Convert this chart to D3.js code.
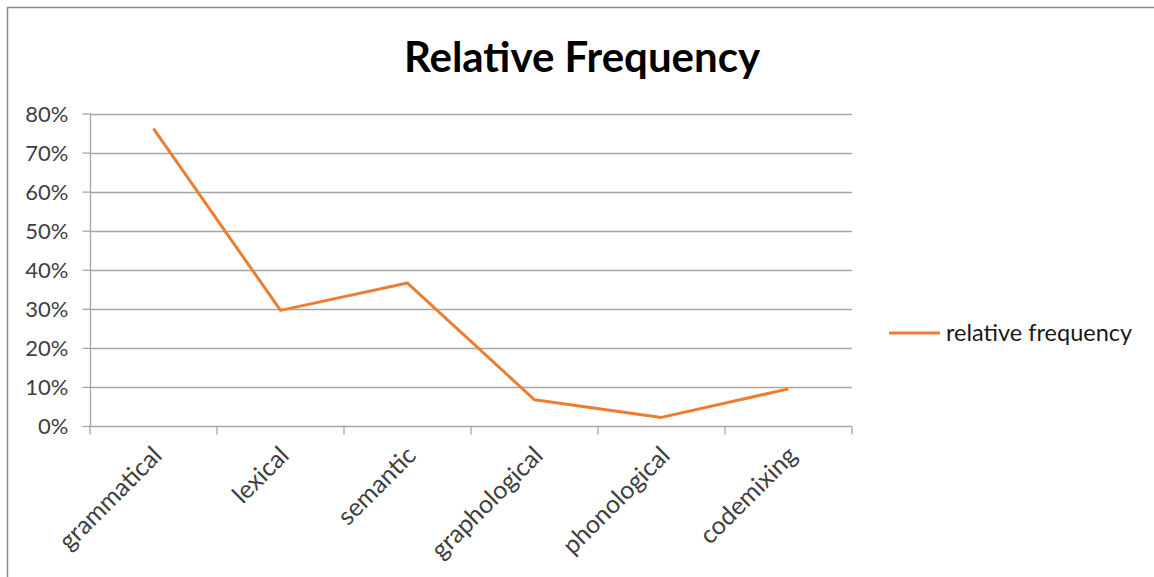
<!DOCTYPE html>
<html><head><meta charset="utf-8">
<script src="https://cdn.jsdelivr.net/npm/d3@7"></script>
<style>body{margin:0;background:#fff;} text{font-family:Lato,"Open Sans",sans-serif;}</style>
</head><body><svg id="c" width="1154" height="577"></svg>
<script>
const categories = ["grammatical","lexical","semantic","graphological","phonological","codemixing"];
const relativeFrequency = [0.761, 0.296, 0.366, 0.067, 0.022, 0.095];
const yTicks = [0,0.1,0.2,0.3,0.4,0.5,0.6,0.7,0.8];
const seriesName = "relative frequency";
const chartTitle = "Relative Frequency";

(function(){
const svg = d3.select("#c");
svg.append("rect").attr("x",7.5).attr("y",7.5).attr("width",1160).attr("height",600)
  .attr("fill","#fff").attr("stroke","#898989").attr("stroke-width",1.5);

const pL=90, pR=852, pT=113.5, pB=426;
const x = d3.scaleBand().domain(categories).range([pL,pR]);
const y = d3.scaleLinear().domain([0,0.8]).range([pB,pT]);

svg.append("g").selectAll("line").data(yTicks.filter(d=>d>0)).join("line")
  .attr("x1",pL).attr("x2",pR).attr("y1",d=>Math.round(y(d))+0.5).attr("y2",d=>Math.round(y(d))+0.5)
  .attr("stroke","#a6a6a6").attr("stroke-width",1.3);

const ya = svg.append("g").attr("transform",`translate(${pL+0.5},0)`)
  .call(d3.axisLeft(y).tickValues(yTicks).tickFormat(d3.format(".0%")).tickSize(8).tickPadding(14));
ya.select(".domain").attr("stroke","#a6a6a6").attr("stroke-width",1.3).attr("d",`M0,${pB}V${pT}`);
ya.selectAll(".tick line").attr("stroke","#a6a6a6").attr("stroke-width",1.3);
ya.selectAll(".tick text").attr("font-size",22).attr("fill","#404040").attr("font-family","Lato").attr("dy","0.35em");

const xa = svg.append("g").attr("transform",`translate(0,${pB+0.5})`)
  .call(d3.axisBottom(x).tickSize(0).tickFormat(""));
xa.select(".domain").attr("stroke","#a6a6a6").attr("stroke-width",1.3).attr("d",`M${pL},0H${pR}`);
const boundaries = categories.map(c=>x(c)).concat([pR]);
xa.append("g").selectAll("line").data(boundaries).join("line")
  .attr("x1",d=>d).attr("x2",d=>d).attr("y1",0).attr("y2",8).attr("stroke","#a6a6a6").attr("stroke-width",1.3);

svg.append("g").selectAll("text").data(categories).join("text")
  .attr("transform",d=>`translate(${x(d)+x.bandwidth()/2+10},${pB+31}) rotate(-45)`)
  .attr("text-anchor","end").attr("font-size",25).attr("fill","#404040").text(d=>d);

const line = d3.line().x((d,i)=>x(categories[i])+x.bandwidth()/2).y(d=>y(d));
svg.append("path").datum(relativeFrequency).attr("d",line).attr("fill","none")
  .attr("stroke","#ED7D31").attr("stroke-width",3).attr("stroke-linejoin","round");

svg.append("text").attr("x",582).attr("y",72).attr("text-anchor","middle")
  .attr("font-size",42).attr("font-weight","bold").attr("fill","#000").text(chartTitle);

svg.append("line").attr("x1",889).attr("x2",940).attr("y1",333).attr("y2",333)
  .attr("stroke","#ED7D31").attr("stroke-width",3);
svg.append("text").attr("x",946).attr("y",341).attr("font-size",23.5).attr("fill","#1a1a1a").text(seriesName);
})();
</script></body></html>
